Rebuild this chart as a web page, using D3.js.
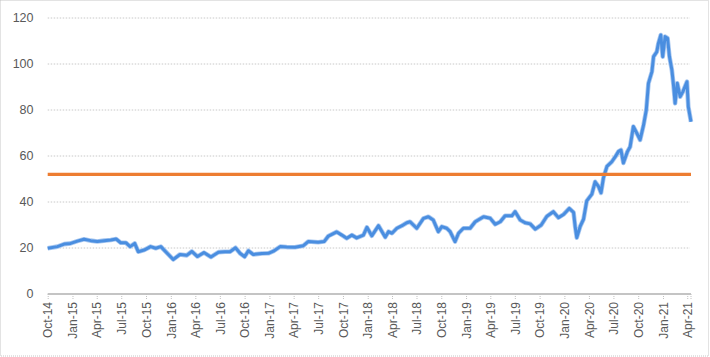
<!DOCTYPE html>
<html><head><meta charset="utf-8">
<script src="https://cdn.jsdelivr.net/npm/d3@7"></script>
<style>html,body{margin:0;padding:0;background:#fff;}svg{display:block;}</style>
</head><body>
<script>
// ---- data ----
const dates = ["2014-10-01","2014-11-06","2014-12-01","2014-12-25","2015-01-19","2015-02-13","2015-03-10","2015-04-03","2015-04-28","2015-05-23","2015-06-12","2015-06-29","2015-07-18","2015-08-03","2015-08-20","2015-09-02","2015-09-24","2015-10-18","2015-11-06","2015-11-25","2015-12-13","2016-01-10","2016-02-04","2016-02-29","2016-03-19","2016-04-09","2016-05-03","2016-05-29","2016-06-26","2016-07-20","2016-08-08","2016-08-28","2016-09-14","2016-10-01","2016-10-15","2016-11-02","2016-12-04","2016-12-28","2017-01-16","2017-02-10","2017-03-06","2017-04-06","2017-05-07","2017-05-25","2017-07-01","2017-07-23","2017-08-08","2017-09-08","2017-09-27","2017-10-15","2017-11-03","2017-11-21","2017-12-16","2017-12-29","2018-01-16","2018-02-10","2018-03-07","2018-03-19","2018-04-01","2018-04-19","2018-05-08","2018-05-26","2018-06-07","2018-07-02","2018-07-27","2018-08-14","2018-09-01","2018-09-20","2018-10-03","2018-10-21","2018-11-03","2018-11-21","2018-12-04","2018-12-22","2019-01-16","2019-02-04","2019-03-07","2019-04-01","2019-04-19","2019-05-08","2019-05-26","2019-06-20","2019-07-02","2019-07-21","2019-08-08","2019-08-27","2019-09-15","2019-10-07","2019-10-28","2019-11-21","2019-12-10","2019-12-29","2020-01-19","2020-02-04","2020-02-10","2020-02-16","2020-02-29","2020-03-12","2020-03-24","2020-04-12","2020-04-24","2020-05-07","2020-05-16","2020-05-25","2020-06-07","2020-06-25","2020-07-08","2020-07-20","2020-07-29","2020-08-07","2020-08-22","2020-09-01","2020-09-13","2020-09-26","2020-10-08","2020-10-21","2020-10-31","2020-11-08","2020-11-21","2020-11-27","2020-12-09","2020-12-15","2020-12-24","2020-12-31","2021-01-09","2021-01-18","2021-01-25","2021-02-03","2021-02-09","2021-02-15","2021-02-23","2021-03-06","2021-03-16","2021-03-31","2021-04-05","2021-04-15"];
const prices = [19.9,20.6,21.7,22.0,23.0,23.8,23.2,22.8,23.2,23.5,23.9,22.3,22.3,20.6,22.0,18.4,19.1,20.6,19.9,20.6,18.4,15.0,17.2,16.8,18.5,16.3,18.0,16.1,18.2,18.4,18.4,20.1,17.7,16.2,18.8,17.2,17.6,17.7,18.6,20.6,20.4,20.3,21.0,22.8,22.5,22.8,25.2,27.0,25.6,24.2,25.6,24.4,25.6,29.0,25.3,29.7,24.7,27.1,26.4,28.6,29.7,31.0,31.4,28.6,32.9,33.6,32.2,27.1,29.3,28.6,27.1,22.8,26.4,28.6,28.6,31.4,33.6,32.9,30.3,31.4,34.0,34.0,35.8,32.2,31.0,30.5,28.2,30.0,33.8,35.8,33.2,34.6,37.2,35.5,29.3,24.5,29.5,32.5,40.5,43.4,48.8,46.7,44.0,50.5,55.5,57.5,59.7,62.0,62.6,57.0,61.9,64.0,72.8,69.9,67.0,73.5,80.0,91.6,96.7,103.2,105.3,109.0,112.6,103.2,111.9,111.2,103.2,97.4,90.9,82.9,91.6,85.8,88.0,92.3,81.4,74.9];
const refDates = ["2014-10-01","2021-04-15"];
const refValues = [52, 52];
const yTicks = [0,20,40,60,80,100,120];

// ---- layout ----
const W = 710, H = 357;
const mLeft = 47.7, mRight = 691, mTop = 18, mBottom = 294;
const parse = d3.timeParse("%Y-%m-%d");
const series = dates.map((d,i)=>({date: parse(d), v: prices[i]}));
const ref = refDates.map((d,i)=>({date: parse(d), v: refValues[i]}));

const svg = d3.select("body").append("svg").attr("width", W).attr("height", H);

svg.append("rect").attr("x",0.5).attr("y",0.5).attr("width",W-2).attr("height",H-1.5)
  .attr("fill","#fff").attr("stroke","#c6c6c6").attr("stroke-dasharray","1,1");

const x = d3.scaleTime().domain(d3.extent(series, d=>d.date)).range([mLeft, mRight]);
const y = d3.scaleLinear().domain([0,120]).range([mBottom, mTop]);

// grid
svg.append("g").selectAll("line").data(yTicks.filter(t=>t>0)).join("line")
  .attr("x1", mLeft).attr("x2", mRight-1).attr("y1", d=>y(d)).attr("y2", d=>y(d))
  .attr("stroke","#c8c8c8").attr("stroke-width",1).attr("stroke-dasharray","1.5,1.5");

// y labels
svg.append("g").selectAll("text").data(yTicks).join("text")
  .attr("x", 33.5).attr("y", d=>y(d)).attr("dy","0.35em").attr("text-anchor","end")
  .attr("font-family","'Liberation Sans', Arial, sans-serif").attr("font-size","12.5px")
  .attr("fill","#595959").text(d=>d);

// x axis
const xTicks = d3.timeMonth.every(3).range(x.domain()[0], d3.timeDay.offset(x.domain()[1],1));
const xAxis = d3.axisBottom(x).tickValues(xTicks).tickSize(5).tickFormat(d3.timeFormat("%b-%y"));
const gx = svg.append("g").attr("transform",`translate(0,${mBottom})`).call(xAxis);
gx.select(".domain").attr("stroke","#b0b0b0").attr("stroke-width",1.6).attr("d",`M${mLeft},0H${mRight}`);
gx.selectAll(".tick line").attr("stroke","#c0c0c0").attr("stroke-dasharray","1,1");
gx.append("line").attr("x1",mRight).attr("x2",mRight).attr("y1",0).attr("y2",5)
  .attr("stroke","#c0c0c0").attr("stroke-dasharray","1,1");
gx.selectAll(".tick text")
  .attr("font-family","'Liberation Sans', Arial, sans-serif").attr("font-size","12px")
  .attr("fill","#595959")
  .attr("transform","rotate(-90)").attr("text-anchor","end")
  .attr("x",-8).attr("y",0).attr("dy","0.35em");

// lines
const line = d3.line().x(d=>x(d.date)).y(d=>y(d.v));
svg.append("path").datum(series).attr("d",line).attr("fill","none")
  .attr("stroke","#a9c8f0").attr("stroke-width",4.6).attr("stroke-linejoin","round");
svg.append("path").datum(series).attr("d",line).attr("fill","none")
  .attr("stroke","#4a8ee0").attr("stroke-width",3).attr("stroke-linejoin","round");

svg.append("path").datum(ref).attr("d",line).attr("fill","none")
  .attr("stroke","#ed7d31").attr("stroke-width",3.2);
</script>
</body></html>
